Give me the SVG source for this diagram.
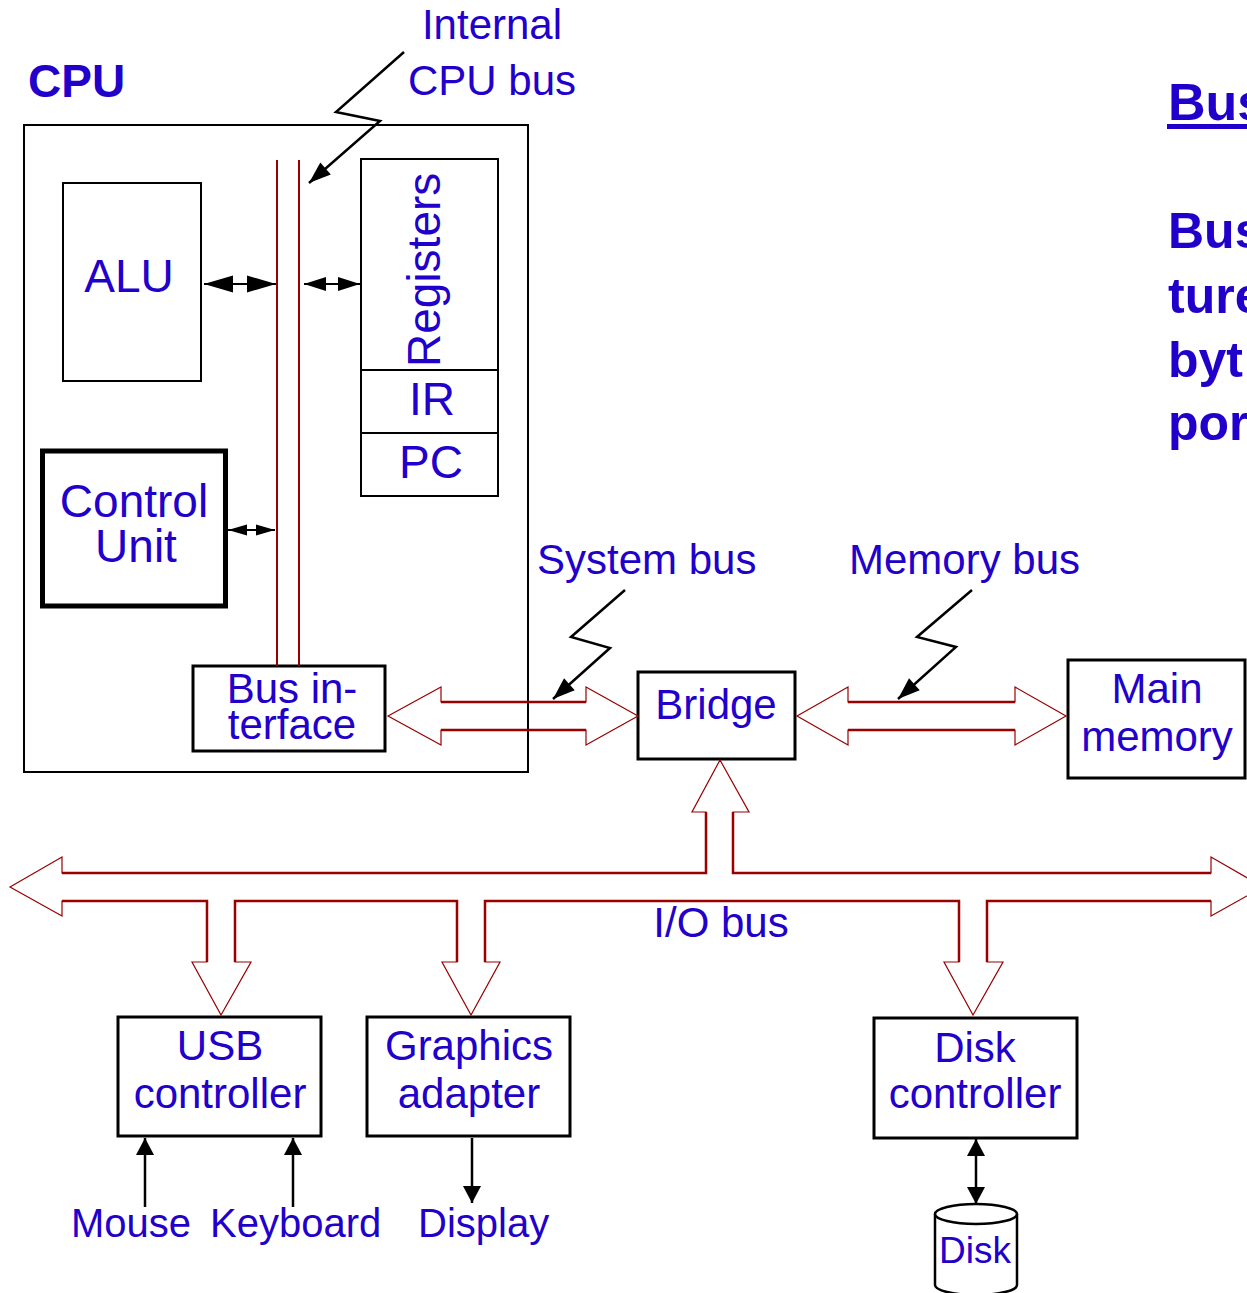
<svg xmlns="http://www.w3.org/2000/svg" width="1247" height="1293" viewBox="0 0 1247 1293">
<style>
text{font-family:"Liberation Sans",Arial,sans-serif;fill:#2200cc}
.l46{font-size:46px}
.l42{font-size:42px}
.l40{font-size:40px}
.mid{text-anchor:middle}
.b{font-weight:bold}
.box{fill:#fff;stroke:#000;stroke-width:2}
.box3{fill:#fff;stroke:#000;stroke-width:3}
.bus{fill:none;stroke:#990000;stroke-width:1.2;stroke-linejoin:miter}
.shaft{fill:none;stroke:#990000;stroke-width:2.5}
.ln{fill:none;stroke:#000;stroke-width:2.5}
.zz{fill:none;stroke:#000;stroke-width:2.5;stroke-linejoin:miter}
</style>
<defs>
<marker id="mA" markerUnits="userSpaceOnUse" markerWidth="30" markerHeight="18" refX="29" refY="8.5" orient="auto-start-reverse" overflow="visible"><path d="M0,0 L29,8.5 L0,17 Z" fill="#000"/></marker>
<marker id="mB" markerUnits="userSpaceOnUse" markerWidth="23" markerHeight="16" refX="22" refY="7" orient="auto-start-reverse" overflow="visible"><path d="M0,0 L22,7 L0,14 Z" fill="#000"/></marker>
<marker id="mZ" markerUnits="userSpaceOnUse" markerWidth="23" markerHeight="18" refX="22" refY="8" orient="auto-start-reverse" overflow="visible"><path d="M0,0 L22,8 L0,16 Z" fill="#000"/></marker>
<marker id="mC" markerUnits="userSpaceOnUse" markerWidth="20" markerHeight="12" refX="19" refY="5.5" orient="auto-start-reverse" overflow="visible"><path d="M0,0 L19,5.5 L0,11 Z" fill="#000"/></marker>
<marker id="mD" markerUnits="userSpaceOnUse" markerWidth="18" markerHeight="19" refX="17" refY="9" orient="auto-start-reverse" overflow="visible"><path d="M0,0 L17,9 L0,18 Z" fill="#000"/></marker>
</defs>

<g id="cpu">
<rect x="24" y="125" width="504" height="647" fill="none" stroke="#000" stroke-width="2"/>
<text x="28" y="97" class="b" style="font-size:46px">CPU</text>
</g>

<g id="internal-bus-label">
<text x="492" y="39" class="l42 mid">Internal</text>
<text x="492" y="95" class="l42 mid">CPU bus</text>
</g>

<g id="alu">
<rect x="63" y="183" width="138" height="198" class="box"/>
<text x="129" y="292" class="l46 mid">ALU</text>
</g>

<g id="registers">
<rect x="361" y="159" width="137" height="337" class="box"/>
<line x1="361" y1="370" x2="498" y2="370" stroke="#000" stroke-width="2"/>
<line x1="361" y1="433" x2="498" y2="433" stroke="#000" stroke-width="2"/>
<text transform="translate(440,367) rotate(-90)" class="l46">Registers</text>
<text x="432" y="415" class="l46 mid">IR</text>
<text x="431" y="478" class="l46 mid">PC</text>
</g>

<g id="control-unit">
<rect x="42.5" y="451" width="183" height="155" fill="#fff" stroke="#000" stroke-width="5"/>
<text x="134" y="517" class="l46 mid">Control</text>
<text x="136" y="562" class="l46 mid">Unit</text>
</g>

<g id="bus-interface">
<rect x="193" y="666" width="192" height="85" class="box3"/>
<text x="292" y="703" class="l42 mid">Bus in-</text>
<text x="292" y="739" class="l42 mid">terface</text>
</g>

<g id="bridge">
<rect x="638" y="672" width="157" height="87" class="box3"/>
<text x="716" y="719" class="l42 mid">Bridge</text>
</g>

<g id="main-memory">
<rect x="1068" y="660" width="177" height="118" class="box3"/>
<text x="1157" y="703" class="l42 mid">Main</text>
<text x="1157" y="751" class="l42 mid">memory</text>
</g>

<g id="usb-controller">
<rect x="118" y="1017" width="203" height="119" class="box3"/>
<text x="220" y="1060" class="l42 mid">USB</text>
<text x="220" y="1108" class="l42 mid">controller</text>
</g>

<g id="graphics-adapter">
<rect x="367" y="1017" width="203" height="119" class="box3"/>
<text x="469" y="1060" class="l42 mid">Graphics</text>
<text x="469" y="1108" class="l42 mid">adapter</text>
</g>

<g id="disk-controller">
<rect x="874" y="1018" width="203" height="120" class="box3"/>
<text x="975" y="1062" class="l42 mid">Disk</text>
<text x="975" y="1108" class="l42 mid">controller</text>
</g>

<g id="disk">
<path d="M935,1214 L935,1285 A41,10 0 0 0 1017,1285 L1017,1214" fill="#fff" stroke="#000" stroke-width="2.5"/>
<ellipse cx="976" cy="1214" rx="41" ry="10" fill="#fff" stroke="#000" stroke-width="2.5"/>
<text x="939" y="1263" style="font-size:37px">Disk</text>
</g>

<g id="labels">
<text x="537" y="574" class="l42">System bus</text>
<text x="849" y="574" class="l42">Memory bus</text>
<text x="721" y="937" class="l42 mid">I/O bus</text>
<text x="71" y="1237" class="l40">Mouse</text>
<text x="210" y="1237" class="l40">Keyboard</text>
<text x="418" y="1237" class="l40">Display</text>
</g>

<g id="side-text">
<text x="1168" y="120" class="b" style="font-size:52px">Bus</text>
<rect x="1167" y="124" width="80" height="5" fill="#2200cc"/>
<text x="1168" y="248" class="b" style="font-size:50px">Bus</text>
<text x="1168" y="313" class="b" style="font-size:50px">ture</text>
<text x="1168" y="377" class="b" style="font-size:50px">byt</text>
<text x="1168" y="440" class="b" style="font-size:50px">por</text>
</g>

<g id="connectors">
<!-- internal CPU bus -->
<line x1="277" y1="160" x2="277" y2="666" stroke="#990000" stroke-width="2"/>
<line x1="299" y1="160" x2="299" y2="666" stroke="#990000" stroke-width="2"/>
<!-- CPU internal arrows -->
<line x1="204" y1="284" x2="276" y2="284" stroke="#000" stroke-width="2" marker-start="url(#mA)" marker-end="url(#mA)"/>
<line x1="304" y1="284" x2="360" y2="284" stroke="#000" stroke-width="2" marker-start="url(#mB)" marker-end="url(#mB)"/>
<line x1="228" y1="530" x2="275" y2="530" stroke="#000" stroke-width="2" marker-start="url(#mC)" marker-end="url(#mC)"/>
<!-- zigzag pointers -->
<polyline points="404,52 336,112 380,121 309,183" class="zz" marker-end="url(#mZ)"/>
<polyline points="625,590 571,637 610,648 553,699" class="zz" marker-end="url(#mZ)"/>
<polyline points="972,590 917,637 956,647 898,699" class="zz" marker-end="url(#mZ)"/>
<!-- system bus -->
<polygon points="388,716 441,687 441,702 586,702 586,687 638,716 586,745 586,730 441,730 441,745" class="bus"/>
<path d="M441,702 H586 M441,730 H586" class="shaft"/>
<!-- memory bus -->
<polygon points="797,716 848,687 848,702 1015,702 1015,687 1066,716 1015,745 1015,730 848,730 848,745" class="bus"/>
<path d="M848,702 H1015 M848,730 H1015" class="shaft"/>
<!-- I/O bus -->
<polygon points="10,887 62,857 62,873 706,873 706,812 692,812 720,760 749,812 733,812 733,873 1211,873 1211,857 1263,887 1211,916 1211,901 987,901 987,962 1003,962 973,1015 944,962 959,962 959,901 485,901 485,962 500,962 471,1015 442,962 457,962 457,901 235,901 235,962 251,962 221,1015 192,962 207,962 207,901 62,901 62,916" class="bus"/>
<path d="M62,873 H706 V812 M733,812 V873 H1211 M62,901 H207 V962 M235,962 V901 H457 V962 M485,962 V901 H959 V962 M987,962 V901 H1211" class="shaft"/>
<!-- device arrows -->
<line x1="145" y1="1207" x2="145" y2="1138" class="ln" marker-end="url(#mD)"/>
<line x1="293" y1="1207" x2="293" y2="1138" class="ln" marker-end="url(#mD)"/>
<line x1="472" y1="1138" x2="472" y2="1203" class="ln" marker-end="url(#mD)"/>
<line x1="976" y1="1139" x2="976" y2="1204" class="ln" marker-start="url(#mD)" marker-end="url(#mD)"/>
</g>
</svg>
